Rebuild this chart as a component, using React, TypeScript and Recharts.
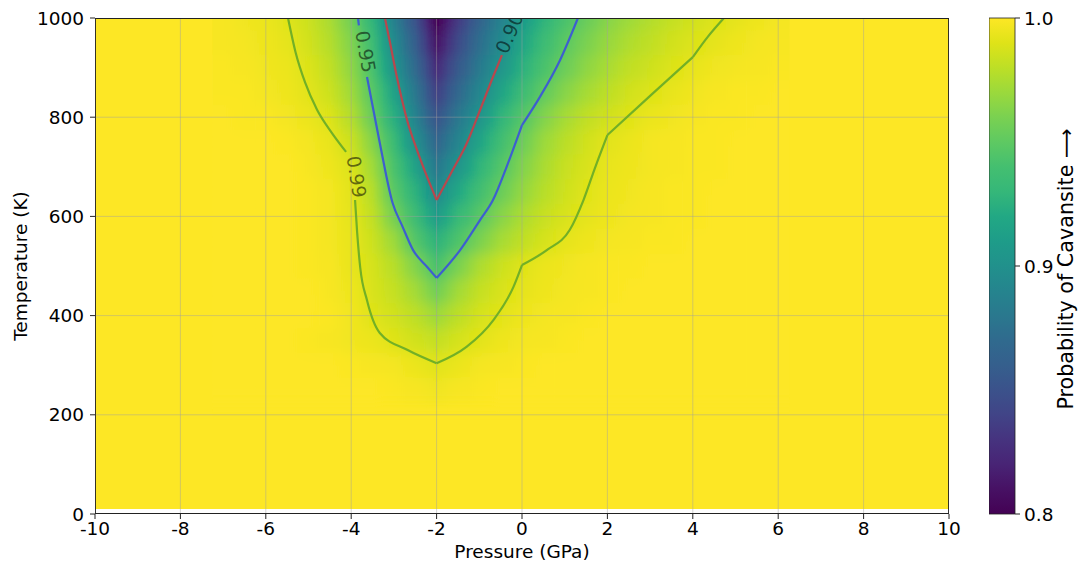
import { ScatterChart, Scatter, XAxis, YAxis, ReferenceArea, Label } from 'recharts';

// axes
const pressureTicks = [-10, -8, -6, -4, -2, 0, 2, 4, 6, 8, 10];
const temperatureTicks = [0, 200, 400, 600, 800, 1000];
const colorbarTicks = [0.8, 0.9, 1.0];
const fieldStart = 10; // lowest temperature covered by the map

// probability of cavansite (rows from 1000 K down to 250 K)
const gridPressure = [-7, -6.5, -6, -5.5, -5, -4.5, -4, -3.5, -3, -2.5, -2, -1.5, -1, -0.5, 0, 0.5, 1, 1.5, 2, 2.5, 3, 3.5, 4, 4.5, 5, 5.5, 6];
const gridTemperature = [1000, 950, 900, 850, 800, 750, 700, 650, 600, 550, 500, 450, 400, 350, 300, 250];
const probability = [
  [0.998, 0.996, 0.994, 0.990, 0.984, 0.974, 0.957, 0.927, 0.887, 0.850, 0.800, 0.835, 0.864, 0.888, 0.909, 0.927, 0.942, 0.954, 0.964, 0.971, 0.977, 0.982, 0.986, 0.989, 0.992, 0.995, 0.997],
  [0.998, 0.997, 0.995, 0.992, 0.986, 0.977, 0.962, 0.935, 0.895, 0.859, 0.812, 0.845, 0.873, 0.895, 0.917, 0.935, 0.949, 0.960, 0.969, 0.976, 0.981, 0.986, 0.989, 0.992, 0.995, 0.997, 0.998],
  [0.999, 0.998, 0.996, 0.994, 0.989, 0.981, 0.966, 0.941, 0.902, 0.869, 0.825, 0.856, 0.882, 0.904, 0.925, 0.942, 0.955, 0.966, 0.974, 0.981, 0.985, 0.989, 0.993, 0.996, 0.997, 0.998, 0.999],
  [0.999, 0.999, 0.997, 0.995, 0.991, 0.984, 0.971, 0.947, 0.914, 0.879, 0.838, 0.868, 0.892, 0.916, 0.935, 0.951, 0.964, 0.973, 0.980, 0.986, 0.989, 0.993, 0.996, 0.998, 0.999, 0.999, 1.0],
  [1.0, 0.999, 0.999, 0.997, 0.994, 0.989, 0.977, 0.953, 0.924, 0.888, 0.852, 0.880, 0.903, 0.928, 0.946, 0.962, 0.973, 0.981, 0.986, 0.990, 0.994, 0.996, 0.998, 0.999, 0.999, 1.0, 1.0],
  [1.0, 1.0, 1.0, 0.999, 0.997, 0.993, 0.984, 0.963, 0.934, 0.899, 0.866, 0.891, 0.916, 0.938, 0.955, 0.970, 0.979, 0.986, 0.991, 0.994, 0.997, 0.998, 0.999, 0.999, 1.0, 1.0, 1.0],
  [1.0, 1.0, 1.0, 1.0, 0.998, 0.995, 0.989, 0.971, 0.942, 0.914, 0.880, 0.904, 0.928, 0.946, 0.962, 0.974, 0.983, 0.988, 0.993, 0.995, 0.997, 0.998, 0.999, 0.999, 1.0, 1.0, 1.0],
  [1.0, 1.0, 1.0, 1.0, 0.999, 0.997, 0.991, 0.977, 0.948, 0.926, 0.895, 0.919, 0.938, 0.954, 0.968, 0.978, 0.985, 0.990, 0.994, 0.996, 0.998, 0.999, 0.999, 1.0, 1.0, 1.0, 1.0],
  [1.0, 1.0, 1.0, 1.0, 0.999, 0.997, 0.992, 0.981, 0.958, 0.935, 0.911, 0.932, 0.948, 0.964, 0.975, 0.983, 0.988, 0.992, 0.995, 0.997, 0.998, 0.999, 0.999, 1.0, 1.0, 1.0, 1.0],
  [1.0, 1.0, 1.0, 1.0, 0.999, 0.997, 0.993, 0.984, 0.970, 0.946, 0.927, 0.944, 0.960, 0.973, 0.981, 0.987, 0.992, 0.995, 0.997, 0.998, 0.999, 0.999, 1.0, 1.0, 1.0, 1.0, 1.0],
  [1.0, 1.0, 1.0, 1.0, 0.999, 0.998, 0.993, 0.987, 0.978, 0.962, 0.942, 0.960, 0.975, 0.984, 0.990, 0.994, 0.996, 0.998, 0.999, 0.999, 1.0, 1.0, 1.0, 1.0, 1.0, 1.0, 1.0],
  [1.0, 1.0, 1.0, 1.0, 1.0, 0.998, 0.995, 0.988, 0.982, 0.972, 0.957, 0.972, 0.982, 0.988, 0.992, 0.995, 0.997, 0.998, 0.999, 1.0, 1.0, 1.0, 1.0, 1.0, 1.0, 1.0, 1.0],
  [1.0, 1.0, 1.0, 1.0, 1.0, 0.999, 0.996, 0.990, 0.986, 0.980, 0.971, 0.980, 0.987, 0.991, 0.995, 0.997, 0.998, 0.999, 1.0, 1.0, 1.0, 1.0, 1.0, 1.0, 1.0, 1.0, 1.0],
  [1.0, 1.0, 1.0, 1.0, 0.999, 0.998, 0.996, 0.994, 0.990, 0.986, 0.982, 0.987, 0.991, 0.995, 0.997, 0.998, 0.999, 1.0, 1.0, 1.0, 1.0, 1.0, 1.0, 1.0, 1.0, 1.0, 1.0],
  [1.0, 1.0, 1.0, 1.0, 1.0, 1.0, 0.999, 0.998, 0.997, 0.994, 0.991, 0.994, 0.997, 0.998, 0.999, 1.0, 1.0, 1.0, 1.0, 1.0, 1.0, 1.0, 1.0, 1.0, 1.0, 1.0, 1.0],
  [1.0, 1.0, 1.0, 1.0, 1.0, 1.0, 1.0, 1.0, 0.999, 0.998, 0.996, 0.998, 0.999, 1.0, 1.0, 1.0, 1.0, 1.0, 1.0, 1.0, 1.0, 1.0, 1.0, 1.0, 1.0, 1.0, 1.0],
];

// contour branches (P in GPa, T in K), split at the kinks and where the labels sit
const red090Left = [
  { p: -3.21, t: 1000 }, { p: -3.09, t: 950 }, { p: -2.93, t: 881 }, { p: -2.69, t: 794 },
  { p: -2.46, t: 734 }, { p: -2.22, t: 679 }, { p: -2.0, t: 633 },
];
const red090Right = [
  { p: -2.0, t: 633 }, { p: -1.62, t: 694 }, { p: -1.29, t: 748 }, { p: -0.98, t: 815 },
  { p: -0.68, t: 881 }, { p: -0.47, t: 925 },
];
const blue095Stub = [{ p: -3.84, t: 1000 }, { p: -3.82, t: 985 }];
const blue095Left = [
  { p: -3.63, t: 881 }, { p: -3.33, t: 748 }, { p: -3.03, t: 627 }, { p: -2.8, t: 580 },
  { p: -2.55, t: 532 }, { p: -2.22, t: 498 }, { p: -2.0, t: 476 },
];
const blue095Mid = [
  { p: -2.0, t: 476 }, { p: -1.45, t: 532 }, { p: -0.98, t: 593 }, { p: -0.68, t: 633 },
  { p: -0.36, t: 700 }, { p: 0.0, t: 784 },
];
const blue095Right = [{ p: 0.0, t: 784 }, { p: 0.42, t: 841 }, { p: 0.89, t: 915 }, { p: 1.31, t: 1000 }];
const green099Upper = [
  { p: -5.48, t: 1000 }, { p: -5.3, t: 930 }, { p: -5.08, t: 870 }, { p: -4.8, t: 815 },
  { p: -4.45, t: 768 }, { p: -4.12, t: 730 },
];
const green099Left = [
  { p: -3.91, t: 633 }, { p: -3.86, t: 567 }, { p: -3.79, t: 498 }, { p: -3.63, t: 431 },
  { p: -3.33, t: 365 }, { p: -2.69, t: 331 }, { p: -2.0, t: 304 },
];
const green099Mid = [
  { p: -2.0, t: 304 }, { p: -1.3, t: 337 }, { p: -0.67, t: 391 }, { p: -0.2, t: 458 }, { p: 0.0, t: 502 },
];
const green099Shoulder = [
  { p: 0.0, t: 502 }, { p: 0.58, t: 532 }, { p: 1.12, t: 573 }, { p: 1.44, t: 633 },
  { p: 1.71, t: 698 }, { p: 2.0, t: 764 },
];
const green099Right = [{ p: 2.0, t: 764 }, { p: 3.0, t: 843 }, { p: 4.0, t: 921 }];
const green099Top = [{ p: 4.0, t: 921 }, { p: 4.35, t: 962 }, { p: 4.73, t: 1000 }];
const contourLabels = [
  { level: '0.99', p: -3.87, t: 680 },
  { level: '0.95', p: -3.66, t: 932 },
  { level: '0.90', p: -0.3, t: 970 },
];

// layout
const CHART_W = 1080;
const CHART_H = 567;
const MARGIN = { top: 18, right: 131, bottom: 0, left: 0 };
const Y_AXIS_W = 95;
const X_AXIS_H = 53;
const PLOT_W = CHART_W - MARGIN.right - MARGIN.left - Y_AXIS_W;
const PLOT_H = CHART_H - MARGIN.top - MARGIN.bottom - X_AXIS_H;
const P_MIN = pressureTicks[0];
const P_MAX = pressureTicks[pressureTicks.length - 1];
const T_MIN = temperatureTicks[0];
const T_MAX = temperatureTicks[temperatureTicks.length - 1];
const PX_PER_P = PLOT_W / (P_MAX - P_MIN);
const PX_PER_T = PLOT_H / (T_MAX - T_MIN);
const FONT = 'DejaVu Sans';

const RED = '#b8474d';
const BLUE = '#3d5fcf';
const GREEN = '#72b026';
const labelAngles: Record<string, number> = { '0.99': 81, '0.95': 80, '0.90': -67 };

const contourLines = [
  { data: green099Upper, color: GREEN },
  { data: green099Left, color: GREEN },
  { data: green099Mid, color: GREEN },
  { data: green099Shoulder, color: GREEN },
  { data: green099Right, color: GREEN },
  { data: green099Top, color: GREEN },
  { data: blue095Stub, color: BLUE },
  { data: blue095Left, color: BLUE },
  { data: blue095Mid, color: BLUE },
  { data: blue095Right, color: BLUE },
  { data: red090Left, color: RED },
  { data: red090Right, color: RED },
];

const VIRIDIS = ['#440154', '#471164', '#482475', '#46337f', '#414487', '#3b528b', '#355f8d', '#306a8e', '#2a788e', '#25848e', '#21918c', '#1e9c89', '#22a884', '#35b779', '#44bf70', '#5ec962', '#7ad151', '#9bd93c', '#bddf26', '#dfe318', '#fde725'];

function hexRgb(h: string) {
  return [1, 3, 5].map((i) => parseInt(h.slice(i, i + 2), 16));
}

function viridis(v: number) {
  const n = Math.min(1, Math.max(0, (v - 0.8) / 0.2)) * (VIRIDIS.length - 1);
  const i = Math.min(Math.floor(n), VIRIDIS.length - 2);
  const f = n - i;
  const a = hexRgb(VIRIDIS[i]);
  const b = hexRgb(VIRIDIS[i + 1]);
  const c = a.map((x, k) => Math.round(x + (b[k] - x) * f));
  return `rgb(${c[0]},${c[1]},${c[2]})`;
}

const pStep = gridPressure[1] - gridPressure[0];
const tStep = gridTemperature[0] - gridTemperature[1];
const heatCells = gridTemperature.flatMap((t, r) =>
  gridPressure.map((p, c) => {
    const row = probability[r];
    const upper = Math.min(t + tStep / 2, T_MAX);
    return {
      cellId: `${r}-${c}`,
      p: p - pStep / 2,
      t: upper,
      cellW: pStep,
      cellH: upper - (t - tStep / 2),
      isTop: upper >= T_MAX,
      v: row[c],
      vL: row[Math.max(c - 1, 0)],
      vR: row[Math.min(c + 1, row.length - 1)],
    };
  })
);

const vGrid = pressureTicks.map((p) => [{ p, t: T_MIN }, { p, t: T_MAX }]);
const hGrid = temperatureTicks.map((t) => [{ p: P_MIN, t }, { p: P_MAX, t }]);
const frame = [
  { p: P_MIN, t: T_MIN }, { p: P_MAX, t: T_MIN }, { p: P_MAX, t: T_MAX },
  { p: P_MIN, t: T_MAX }, { p: P_MIN, t: T_MIN },
];

const noDot = () => <g />;

function HeatCell(props: any) {
  const { cx, cy, payload } = props;
  if (typeof cx !== 'number' || typeof cy !== 'number') return <g />;
  const w = payload.cellW * PX_PER_P + 0.8;
  const h = payload.cellH * PX_PER_T + 0.8;
  const pad = payload.isTop ? 24 : 0;
  const id = `heat-${payload.cellId}`;
  return (
    <g>
      <defs>
        <linearGradient id={id} x1="0" y1="0" x2="1" y2="0">
          <stop offset="0" stopColor={viridis((payload.vL + payload.v) / 2)} />
          <stop offset="0.5" stopColor={viridis(payload.v)} />
          <stop offset="1" stopColor={viridis((payload.vR + payload.v) / 2)} />
        </linearGradient>
      </defs>
      <rect x={cx} y={cy - pad} width={w} height={h + pad} fill={`url(#${id})`} />
    </g>
  );
}

function ContourLabel(props: any) {
  const { cx, cy, payload } = props;
  if (typeof cx !== 'number') return <g />;
  return (
    <text
      x={cx}
      y={cy}
      transform={`rotate(${labelAngles[payload.level]} ${cx} ${cy})`}
      textAnchor="middle"
      dominantBaseline="central"
      fontSize={19}
      fontFamily={FONT}
      fill="#000"
      fillOpacity={0.55}
    >
      {payload.level}
    </text>
  );
}

const tickStyle = { fontSize: 18.5, fill: '#000', fontFamily: FONT };

export default function App() {
  return (
    <div style={{ position: 'absolute', left: 0, top: 0, width: CHART_W, height: CHART_H, background: '#fff', fontFamily: FONT }}>
      <style>{'.heat-layer { filter: url(#heatBlur); }'}</style>
      <svg width={0} height={0} style={{ position: 'absolute' }}>
        <defs>
          <filter id="heatBlur" x="-5%" y="-10%" width="110%" height="120%">
            <feGaussianBlur stdDeviation="0.01 7" />
          </filter>
          <linearGradient id="viridisBar" x1="0" y1="1" x2="0" y2="0">
            {VIRIDIS.map((c, i) => (
              <stop key={c} offset={i / (VIRIDIS.length - 1)} stopColor={c} />
            ))}
          </linearGradient>
        </defs>
      </svg>

      <ScatterChart width={CHART_W} height={CHART_H} margin={MARGIN}>
        <XAxis
          dataKey="p"
          type="number"
          domain={[P_MIN, P_MAX]}
          ticks={pressureTicks}
          interval={0}
          allowDataOverflow
          height={X_AXIS_H}
          axisLine={false}
          tickSize={5}
          tickMargin={3}
          tickLine={{ stroke: '#222' }}
          tick={tickStyle}
        >
          <Label
            content={({ viewBox }: any) => (
              <text x={viewBox.x + viewBox.width / 2} y={viewBox.y + 44} textAnchor="middle" fontSize={18.5} fontFamily={FONT} fill="#000">
                Pressure (GPa)
              </text>
            )}
          />
        </XAxis>
        <YAxis
          dataKey="t"
          type="number"
          domain={[T_MIN, T_MAX]}
          ticks={temperatureTicks}
          interval={0}
          allowDataOverflow
          width={Y_AXIS_W}
          axisLine={false}
          tickSize={5}
          tickMargin={6}
          tickLine={{ stroke: '#222' }}
          tick={tickStyle}
        >
          <Label
            content={({ viewBox }: any) => {
              const x = viewBox.x + 20;
              const y = viewBox.y + viewBox.height / 2;
              return (
                <text x={x} y={y} transform={`rotate(-90 ${x} ${y})`} textAnchor="middle" dominantBaseline="central" fontSize={18.5} fontFamily={FONT} fill="#000">
                  Temperature (K)
                </text>
              );
            }}
          />
        </YAxis>

        <ReferenceArea x1={P_MIN} x2={P_MAX} y1={fieldStart} y2={T_MAX} fill={viridis(1)} fillOpacity={1} stroke="none" />

        <Scatter data={heatCells} className="heat-layer" shape={HeatCell} isAnimationActive={false} />

        {vGrid.map((d, i) => (
          <Scatter key={`vg${i}`} data={d} line={{ stroke: '#a0a0a0', strokeOpacity: 0.45, strokeWidth: 1 }} shape={noDot} isAnimationActive={false} />
        ))}
        {hGrid.map((d, i) => (
          <Scatter key={`hg${i}`} data={d} line={{ stroke: '#a0a0a0', strokeOpacity: 0.45, strokeWidth: 1 }} shape={noDot} isAnimationActive={false} />
        ))}

        {contourLines.map((c, i) => (
          <Scatter
            key={`c${i}`}
            data={c.data}
            line={{ stroke: c.color, strokeWidth: 2.2 }}
            lineJointType="monotoneX"
            shape={noDot}
            isAnimationActive={false}
          />
        ))}
        <Scatter data={contourLabels} shape={ContourLabel} isAnimationActive={false} />

        <Scatter data={frame} line={{ stroke: '#222', strokeWidth: 1.8 }} shape={noDot} isAnimationActive={false} />
      </ScatterChart>

      <div style={{ position: 'absolute', left: 989, top: 0 }}>
        <ScatterChart width={90} height={CHART_H} margin={{ top: MARGIN.top, right: 0, bottom: X_AXIS_H, left: 0 }}>
          <XAxis dataKey="x" type="number" domain={[0, 1]} hide />
          <YAxis
            dataKey="v"
            type="number"
            orientation="right"
            domain={[colorbarTicks[0], colorbarTicks[colorbarTicks.length - 1]]}
            ticks={colorbarTicks}
            interval={0}
            width={64}
            axisLine={false}
            tickSize={5}
            tickMargin={4}
            tickLine={{ stroke: '#222' }}
            tick={tickStyle}
            tickFormatter={(v: number) => v.toFixed(1)}
          >
            <Label
              content={({ viewBox }: any) => {
                const x = viewBox.x + 51;
                const y = viewBox.y + viewBox.height / 2 + 3;
                return (
                  <text x={x} y={y} transform={`rotate(-90 ${x} ${y})`} textAnchor="middle" dominantBaseline="central" fontSize={20.7} fontFamily={FONT} fill="#000">
                    Probability of Cavansite ⟶
                  </text>
                );
              }}
            />
          </YAxis>
          <ReferenceArea x1={0} x2={1} y1={colorbarTicks[0]} y2={colorbarTicks[colorbarTicks.length - 1]} fill="url(#viridisBar)" fillOpacity={1} stroke="#222" strokeWidth={0.8} />
          <Scatter data={colorbarTicks.map((v) => ({ x: 0.5, v }))} shape={noDot} isAnimationActive={false} />
        </ScatterChart>
      </div>
    </div>
  );
}
